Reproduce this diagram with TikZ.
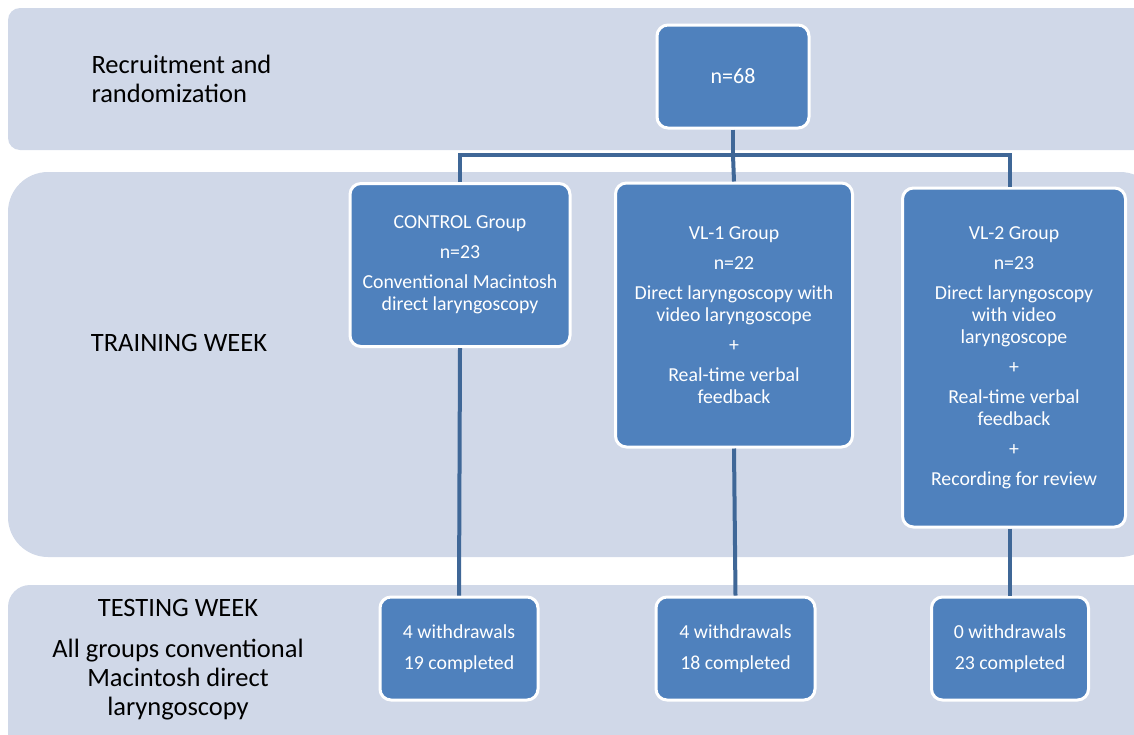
\documentclass[tikz,border=0pt]{standalone}
\usepackage{fontspec}
\setmainfont{Carlito}
\definecolor{band}{HTML}{D0D8E8}
\definecolor{boxblue}{HTML}{4F81BD}
\definecolor{linkblue}{HTML}{3F6797}

\begin{document}
\begin{tikzpicture}[x=1pt,y=-1pt,
    grp/.style={rectangle, rounded corners=11pt, fill=boxblue, draw=white,
      line width=3pt, text=white, align=center, inner sep=0pt,
      font=\fontsize{19.8}{22}\selectfont},
    lbl/.style={align=center, font=\fontsize{26.5}{29}\selectfont},
    link/.style={draw=linkblue, line width=4pt}]
    \useasboundingbox (0,0) rectangle (1134,734);
    \clip (0,0) rectangle (1134,734);

    % background bands
    \fill[band, rounded corners=12pt] (8,8) rectangle (1160,150);
    \fill[band, rounded corners=40pt] (8,172) rectangle (1160,557);
    \fill[band, rounded corners=22pt] (8,585) rectangle (1160,760);

    % row labels
    \node[lbl, align=left, anchor=west] (recruit) at (88,79) {Recruitment and\\randomization};
    \node[lbl] (training) at (179,343) {TRAINING WEEK};
    \node[lbl] (testing) at (178,660) {TESTING WEEK\\[12pt]All groups conventional\\Macintosh direct\\laryngoscopy};

    % groups
    \node[grp, minimum width=152, minimum height=103, font=\fontsize{22}{26}\selectfont] (all) at (733,76.5) {n=68};
    \node[grp, minimum width=220, minimum height=163] (control) at (460,265)
      {CONTROL Group\\[8pt]n=23\\[8pt]Conventional Macintosh\\direct laryngoscopy};
    \node[grp, minimum width=237, minimum height=264] (vlone) at (734,315)
      {VL-1 Group\\[8pt]n=22\\[8pt]Direct laryngoscopy with\\video laryngoscope\\[8pt]+\\[8pt]Real-time verbal\\feedback};
    \node[grp, minimum width=223, minimum height=339] (vltwo) at (1014,357.5)
      {VL-2 Group\\[8pt]n=23\\[8pt]Direct laryngoscopy\\with video\\laryngoscope\\[8pt]+\\[8pt]Real-time verbal\\feedback\\[8pt]+\\[8pt]Recording for review};

    % outcomes
    \node[grp, minimum width=158, minimum height=103] (wdone) at (459,648.5)
      {4 withdrawals\\[9pt]19 completed};
    \node[grp, minimum width=159, minimum height=103] (wdtwo) at (735.5,648.5)
      {4 withdrawals\\[9pt]18 completed};
    \node[grp, minimum width=157, minimum height=103] (wdthree) at (1010,648.5)
      {0 withdrawals\\[9pt]23 completed};

    % connectors
    \coordinate (split) at (733,155);
    \draw[link] (all.south) -- (split);
    \draw[link] (control.north) |- (split) -| (wdthree.north |- vltwo.north);
    \draw[link] (split) -- (vlone.north);
    \draw[link] (control.south) -- (wdone.north);
    \draw[link] (vlone.south) -- (wdtwo.north);
    \draw[link] (wdthree.north |- vltwo.south) -- (wdthree.north);
\end{tikzpicture}
\end{document}
